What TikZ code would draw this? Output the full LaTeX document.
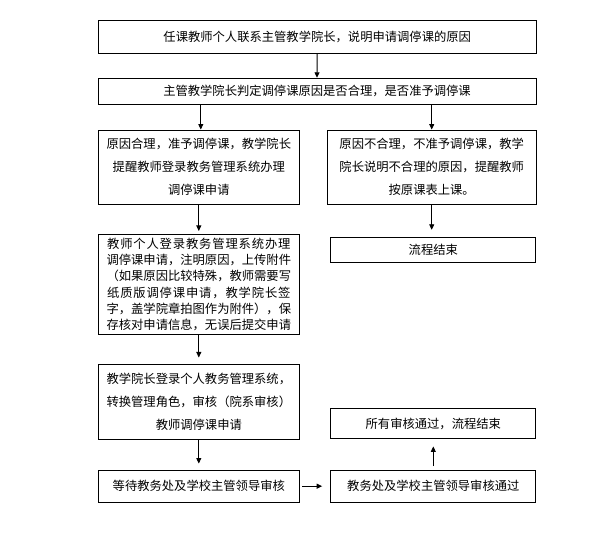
\documentclass[tikz,border=0pt]{standalone}
\usepackage{fontspec}
\setmainfont{Noto Sans CJK SC}
\newfontfamily\cjkwide[LetterSpace=7]{Noto Sans CJK SC}
\usetikzlibrary{arrows.meta}
\begin{document}
\begin{tikzpicture}[x=1pt,y=-1pt,
  box/.style={draw,line width=1pt,inner sep=0pt,font=\fontsize{12.3}{23}\selectfont,align=center},
  arr/.style={line width=0.9pt,-{Triangle[length=5.5pt,width=5pt]}}]
\useasboundingbox (0,0) rectangle (616,537);
\node[box,minimum width=437.7pt,minimum height=32.6pt] (b1) at (317.2,37) {任课教师个人联系主管教学院长，说明申请调停课的原因};
\node[box,minimum width=438pt,minimum height=26pt] (b2) at (317,91.3) {主管教学院长判定调停课原因是否合理，是否准予调停课};
\node[box,minimum width=201pt,minimum height=74.3pt] (b3l) at (198.8,167.2) {原因合理，准予调停课，教学院长\\提醒教师登录教务管理系统办理\\调停课申请};
\node[box,minimum width=208.7pt,minimum height=74.3pt] (b3r) at (431.7,167.2) {原因不合理，不准予调停课，教学\\院长说明不合理的原因，提醒教师\\按原课表上课。};
\node[box,minimum width=201pt,minimum height=100pt,font=\fontsize{12.3}{16.2}\selectfont] (b4) at (198.8,284.5) {{\cjkwide 教师个人登录教务管理系统办理}\\调停课申请，注明原因，上传附件\\（如果原因比较特殊，教师需要写\\{\cjkwide 纸质版调停课申请，教学院长签}\\字，盖学院章拍图作为附件），保\\存核对申请信息，无误后提交申请};
\node[box,minimum width=205.3pt,minimum height=25pt] (bend) at (433.3,249.8) {流程结束};
\node[box,minimum width=201pt,minimum height=74pt] (b5) at (198.8,402) {教学院长登录个人教务管理系统，\\转换管理角色，审核（院系审核）\\教师调停课申请};
\node[box,minimum width=201pt,minimum height=32.3pt] (b6) at (198.8,486.2) {等待教务处及学校主管领导审核};
\node[box,minimum width=205.3pt,minimum height=32.3pt] (b7) at (433.3,486.2) {教务处及学校主管领导审核通过};
\node[box,minimum width=205.3pt,minimum height=30.3pt] (b8) at (433.3,423.8) {所有审核通过，流程结束};
\draw[arr] (b1.south) -- (b2.north);
\draw[arr] ([xshift=2pt]b3l.north |- b2.south) -- ([xshift=2pt]b3l.north);
\draw[arr] (b3r.north |- b2.south) -- (b3r.north);
\draw[arr,shorten >=3pt] (b3l.south) -- (b4.north);
\draw[arr,shorten >=7pt] (b3r.south) -- (b3r.south |- bend.north);
\draw[arr,shorten >=7pt] (b4.south) -- (b5.north);
\draw[arr,shorten >=6pt] (b5.south) -- (b6.north);
\draw[arr,shorten <=2.5pt,shorten >=8pt] (b6.east) -- (b7.west);
\draw[arr,shorten <=3.5pt,shorten >=7pt] (b7.north) -- (b8.south);
\end{tikzpicture}
\end{document}
